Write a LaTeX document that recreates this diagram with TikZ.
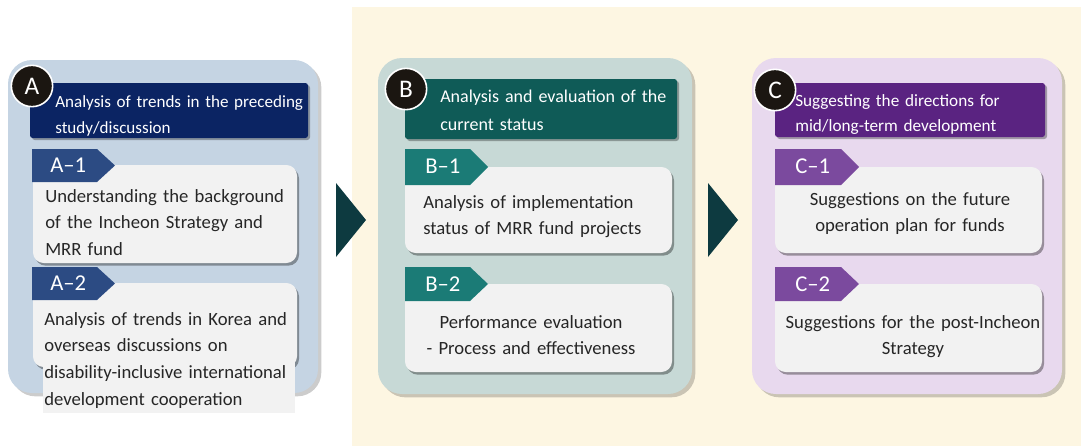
\documentclass[tikz,border=0pt]{standalone}
\usepackage{fontspec}
\setmainfont{Carlito}
\usetikzlibrary{shadows}

\definecolor{creamc}{RGB}{253,246,226}
\definecolor{panelA}{RGB}{197,212,227}
\definecolor{panelB}{RGB}{199,217,214}
\definecolor{panelC}{RGB}{232,217,238}
\definecolor{headA}{RGB}{11,36,99}
\definecolor{headB}{RGB}{15,91,87}
\definecolor{headC}{RGB}{90,35,129}
\definecolor{tagA}{RGB}{44,75,131}
\definecolor{tagB}{RGB}{27,123,118}
\definecolor{tagC}{RGB}{123,74,158}
\definecolor{cardc}{RGB}{242,242,242}
\definecolor{badgec}{RGB}{27,22,17}
\definecolor{arrowc}{RGB}{13,58,64}
\definecolor{inkc}{RGB}{38,38,38}

\tikzset{
  panel/.style={rounded corners=18pt, drop shadow={shadow xshift=2.5pt, shadow yshift=-2.5pt, opacity=.2, fill=black}},
  head/.style={rounded corners=2pt, drop shadow={shadow xshift=1.5pt, shadow yshift=-1.5pt, opacity=.3, fill=black}},
  card/.style={fill=cardc, rounded corners=8pt, drop shadow={shadow xshift=1.5pt, shadow yshift=-2pt, opacity=.35, fill=black}},
  badge/.style={circle, fill=badgec, draw=white, line width=1.2pt, minimum size=31pt, inner sep=0pt, text=white, font=\fontsize{19}{19}\selectfont},
  taglabel/.style={anchor=west, inner sep=0pt, text=white, font=\fontsize{17}{17}\selectfont},
  headtext/.style={anchor=base west, inner sep=0pt, text=white, text width=210pt, align=left, font=\fontsize{13.5}{20}\selectfont},
  bodyleft/.style={anchor=base west, inner sep=0pt, text=inkc, text width=200pt, align=left, font=\fontsize{14}{20}\selectfont},
  bodymid/.style={anchor=base, inner sep=0pt, text=inkc, text width=200pt, align=center, font=\fontsize{14}{20}\selectfont}
}

\begin{document}
\begin{tikzpicture}[x=0.75pt,y=0.75pt,yscale=-1,xscale=1]
\useasboundingbox (0,0) rectangle (1081,446);

%Shape: Background
\fill[creamc] (352,7) rectangle (1081,446);

%Shape: Panels
\fill[panel, panelA] (8,60) rectangle (318,393);
\fill[panel, panelB] (378,58) rectangle (692,394);
\fill[panel, panelC] (752,58) rectangle (1062,394);

%Shape: Arrows between panels
\fill[arrowc] (336,183) -- (366,220) -- (336,257) -- cycle;
\fill[arrowc] (708,183) -- (738,220) -- (708,257) -- cycle;

%Shape: Header bars
\fill[head, headA] (30,83) rectangle (308,138);
\fill[head, headB] (405,79) rectangle (677,139);
\fill[head, headC] (775,83) rectangle (1045,137);

%Shape: Cards
\fill[card] (33,165) rectangle (297,263);
\fill[card] (33,283) rectangle (297,367);
\fill[cardc] (43,300) rectangle (295,413);
\fill[card] (405,167) rectangle (672,253);
\fill[card] (405,284) rectangle (672,372);
\fill[card] (775,167) rectangle (1042,253);
\fill[card] (775,284) rectangle (1042,372);

%Shape: Tags
\fill[tagA] (32,149) -- (97,149) -- (115,165.5) -- (97,182) -- (32,182) -- cycle;
\fill[tagA] (32,267) -- (97,267) -- (115,283.5) -- (97,300) -- (32,300) -- cycle;
\fill[tagB] (405,149) -- (470,149) -- (488,167) -- (470,185) -- (405,185) -- cycle;
\fill[tagB] (405,267) -- (470,267) -- (488,284) -- (470,301) -- (405,301) -- cycle;
\fill[tagC] (775,149) -- (841,149) -- (859,167) -- (841,185) -- (775,185) -- cycle;
\fill[tagC] (775,267) -- (841,267) -- (859,284) -- (841,301) -- (775,301) -- cycle;

% Badges
\node[badge] (bdA) at (32,86) {A};
\node[badge] (bdB) at (406,89) {B};
\node[badge] (bdC) at (775,90) {C};

% Text Node
\node[headtext, font=\fontsize{12.8}{19.5}\selectfont] (hdA) at (55,107) {Analysis of trends in the preceding\\study/discussion};
\node[headtext, font=\fontsize{13.5}{21}\selectfont] (hdB) at (440,102) {Analysis and evaluation of the\\current status};
\node[headtext, font=\fontsize{12.9}{19}\selectfont] (hdC) at (795,106) {Suggesting the directions for\\mid/long-term development};

% Text Node
\node[taglabel] (tgA1) at (50,165) {A--1};
\node[taglabel] (tgA2) at (50,283.5) {A--2};
\node[taglabel] (tgB1) at (425,166) {B--1};
\node[taglabel] (tgB2) at (425,284) {B--2};
\node[taglabel] (tgC1) at (795,166) {C--1};
\node[taglabel] (tgC2) at (795,284) {C--2};

% Text Node
\node[bodyleft] (txA1) at (45,202) {Understanding the background\\of the Incheon Strategy and\\MRR fund};
\node[bodyleft] (txA2) at (44,325) {Analysis of trends in Korea and\\overseas discussions on\\disability-inclusive international\\development cooperation};
\node[bodyleft] (txB1) at (423,208) {Analysis of implementation\\status of MRR fund projects};
\node[bodymid] (txB2) at (531,328) {Performance evaluation\\- Process and effectiveness};
\node[bodymid] (txC1) at (910,205) {Suggestions on the future\\operation plan for funds};
\node[bodymid] (txC2) at (913,328) {Suggestions for the post-Incheon\\Strategy};
\end{tikzpicture}
\end{document}
